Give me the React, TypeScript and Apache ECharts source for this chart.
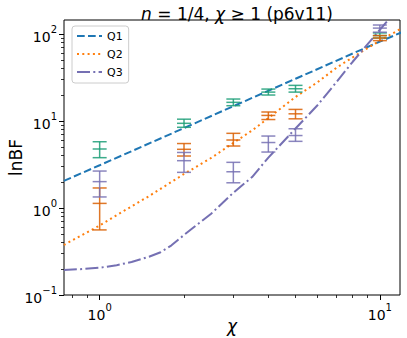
import React, { useEffect, useRef } from 'react';
import * as echarts from 'echarts';

// Model curves: chi values and lnBF values
const q1LineChi = [0.745, 1, 2, 3, 5, 10, 12];
const q1LineVal = [2.05, 3.1, 8.3, 14.8, 30.6, 82, 105];
const q2LineChi = [0.745, 1, 1.25, 1.5, 2, 2.5, 3, 3.5, 4, 5, 6, 7, 8, 10, 12];
const q2LineVal = [0.376, 0.63, 0.97, 1.37, 2.46, 3.76, 5.6, 7.8, 10.8, 18.9, 28, 41, 54, 84, 117];
const q3LineChi = [0.745, 0.85, 1, 1.15, 1.3, 1.5, 1.65, 1.8, 2, 2.25, 2.5, 3, 3.5, 4, 5, 6, 7, 8, 10, 11.5];
const q3LineVal = [0.194, 0.198, 0.206, 0.22, 0.24, 0.275, 0.31, 0.37, 0.49, 0.66, 0.86, 1.5, 2.27, 3.8, 8.2, 15.3, 28, 48, 112, 190];

// Error bar data
const ebChi = [1, 2, 3, 4, 5, 10];
const q1Lo = [3.79, 8.47, 15.0, 19.9, 21.5, 90];
const q1Mid = [4.77, 9.41, 16.4, 21.5, 23.5, 96];
const q1Hi = [5.78, 10.5, 17.9, 23.3, 25.7, 103];
const q2Lo = [0.56, 3.96, 5.16, 10.4, 10.6, 84];
const q2Mid = [1.13, 4.73, 6.05, 11.6, 12.1, 90];
const q2Hi = [1.7, 5.51, 7.22, 12.7, 13.6, 96];
const q3Lo = [1.34, 2.57, 1.95, 4.4, 5.84, 105];
const q3Mid = [2.01, 3.5, 2.61, 5.66, 6.81, 117];
const q3Hi = [2.66, 4.35, 3.35, 6.72, 8.15, 127];

// Axis ticks
const xMajor = [1, 10];
const xMinor = [0.8, 0.9, 2, 3, 4, 5, 6, 7, 8, 9];
const yMajor = [0.1, 1, 10, 100];
const yMinor = [0.2, 0.3, 0.4, 0.5, 0.6, 0.7, 0.8, 0.9, 2, 3, 4, 5, 6, 7, 8, 9, 20, 30, 40, 50, 60, 70, 80, 90];

const FONT = 'DejaVu Sans';

const pairs = (xs: number[], ys: number[]) => xs.map((x, i) => [x, ys[i]]);
const quads = (lo: number[], mid: number[], hi: number[]) =>
  ebChi.map((x, i) => [x, lo[i], mid[i], hi[i]]);

const powLabel = (v: number) => {
  const e = Math.round(Math.log10(v));
  const s = e < 0 ? '\u2212' + Math.abs(e) : String(e);
  return '{b|10}{s|' + s + '}';
};
const powRich = {
  b: { fontSize: 14, fontFamily: FONT, color: '#000', lineHeight: 20, verticalAlign: 'bottom' },
  s: { fontSize: 10, fontFamily: FONT, color: '#000', lineHeight: 20, verticalAlign: 'top' },
};

function errorSeries(data: number[][], color: string) {
  return {
    type: 'custom',
    xAxisIndex: 0,
    yAxisIndex: 0,
    data,
    encode: { x: 0, y: [1, 2, 3] },
    z: 3,
    renderItem: (params: any, api: any) => {
      const x = api.value(0);
      const pLo = api.coord([x, api.value(1)]);
      const pMid = api.coord([x, api.value(2)]);
      const pHi = api.coord([x, api.value(3)]);
      const hw = 7;
      const style = { stroke: color, lineWidth: 1.5, opacity: 0.85 };
      const h = (p: number[]) => ({
        type: 'line',
        shape: { x1: p[0] - hw, y1: p[1], x2: p[0] + hw, y2: p[1] },
        style,
      });
      return {
        type: 'group',
        children: [
          { type: 'line', shape: { x1: pLo[0], y1: pLo[1], x2: pHi[0], y2: pHi[1] }, style },
          h(pLo),
          h(pMid),
          h(pHi),
        ],
      };
    },
  };
}

function lineSeries(name: string, data: number[][], color: string, dash: number[]) {
  return {
    name,
    type: 'line',
    xAxisIndex: 0,
    yAxisIndex: 0,
    data,
    showSymbol: false,
    symbol: 'none',
    clip: true,
    z: 2,
    lineStyle: { color, width: 2, type: dash },
    itemStyle: { color },
  };
}

export default function App() {
  const ref = useRef<HTMLDivElement>(null);
  useEffect(() => {
    if (!ref.current) return;
    const chart = echarts.init(ref.current, null, { renderer: 'svg' });
    const xMin = 0.746, xMax = 11.8, yMin = 0.1, yMax = 145;
    const option: any = {
      animation: false,
      backgroundColor: '#fff',
      title: {
        text: '{i|n} = 1/4, {i|\u03c7} \u2265 1 (p6v11)',
        left: 232,
        top: 0,
        textAlign: 'center',
        textStyle: {
          fontSize: 17,
          fontFamily: FONT,
          fontWeight: 'normal',
          color: '#000',
          rich: { i: { fontSize: 17, fontFamily: FONT, fontStyle: 'italic', color: '#000' } },
        },
      },
      legend: {
        orient: 'vertical',
        left: 72,
        top: 26,
        data: ['Q1', 'Q2', 'Q3'],
        itemWidth: 25,
        itemHeight: 10,
        itemGap: 4,
        padding: [3, 6, 4, 4],
        backgroundColor: 'rgba(255,255,255,0.8)',
        borderColor: '#ccc',
        borderWidth: 1,
        borderRadius: 3,
        itemStyle: { opacity: 0 },
        textStyle: { fontSize: 11, fontFamily: FONT, color: '#000', lineHeight: 14 },
      },
      grid: {
        left: 64,
        top: 20,
        width: 336,
        height: 275,
        show: true,
        borderColor: '#000',
        borderWidth: 1,
        backgroundColor: 'transparent',
        containLabel: false,
        outerBoundsMode: 'none',
      },
      xAxis: [
        {
          type: 'log',
          logBase: 10,
          min: xMin,
          max: xMax,
          position: 'bottom',
          axisLine: { show: false },
          splitLine: { show: false },
          minorTick: { show: false },
          axisTick: { show: true, inside: false, length: 5, lineStyle: { color: '#000', width: 1 }, customValues: xMajor },
          axisLabel: { customValues: xMajor, formatter: powLabel, rich: powRich, margin: 7 },
          name: '\u03c7',
          nameLocation: 'middle',
          nameGap: 22,
          nameMoveOverlap: false,
          nameTextStyle: { fontSize: 17, fontFamily: FONT, fontStyle: 'italic', color: '#000' },
        },
        {
          type: 'log',
          logBase: 10,
          min: xMin,
          max: xMax,
          position: 'bottom',
          axisLine: { show: false },
          splitLine: { show: false },
          axisLabel: { show: false },
          axisTick: { show: true, inside: false, length: 3, lineStyle: { color: '#000', width: 0.8 }, customValues: xMinor },
        },
      ],
      yAxis: [
        {
          type: 'log',
          logBase: 10,
          min: yMin,
          max: yMax,
          position: 'left',
          axisLine: { show: false },
          splitLine: { show: false },
          minorTick: { show: false },
          axisTick: { show: true, inside: false, length: 5, lineStyle: { color: '#000', width: 1 }, customValues: yMajor },
          axisLabel: { customValues: yMajor, formatter: powLabel, rich: powRich, margin: 7 },
          name: 'lnBF',
          nameLocation: 'middle',
          nameGap: 40,
          nameRotate: 90,
          nameMoveOverlap: false,
          nameTextStyle: { fontSize: 17, fontFamily: FONT, color: '#000' },
        },
        {
          type: 'log',
          logBase: 10,
          min: yMin,
          max: yMax,
          position: 'left',
          axisLine: { show: false },
          splitLine: { show: false },
          axisLabel: { show: false },
          axisTick: { show: true, inside: false, length: 3, lineStyle: { color: '#000', width: 0.8 }, customValues: yMinor },
        },
      ],
      series: [
        lineSeries('Q1', pairs(q1LineChi, q1LineVal), '#1f77b4', [7.7, 3.3]),
        lineSeries('Q2', pairs(q2LineChi, q2LineVal), '#ff7f0e', [2, 3.3]),
        lineSeries('Q3', pairs(q3LineChi, q3LineVal), '#7570b3', [13, 3.3, 2, 3.3]),
        errorSeries(quads(q1Lo, q1Mid, q1Hi), '#1b9e77'),
        errorSeries(quads(q2Lo, q2Mid, q2Hi), '#d95f02'),
        errorSeries(quads(q3Lo, q3Mid, q3Hi), '#7570b3'),
      ],
    };
    chart.setOption(option);
    return () => chart.dispose();
  }, []);
  return (
    <div
      ref={ref}
      style={{ position: 'fixed', left: 0, top: 0, width: 407, height: 338, background: '#fff' }}
    />
  );
}
